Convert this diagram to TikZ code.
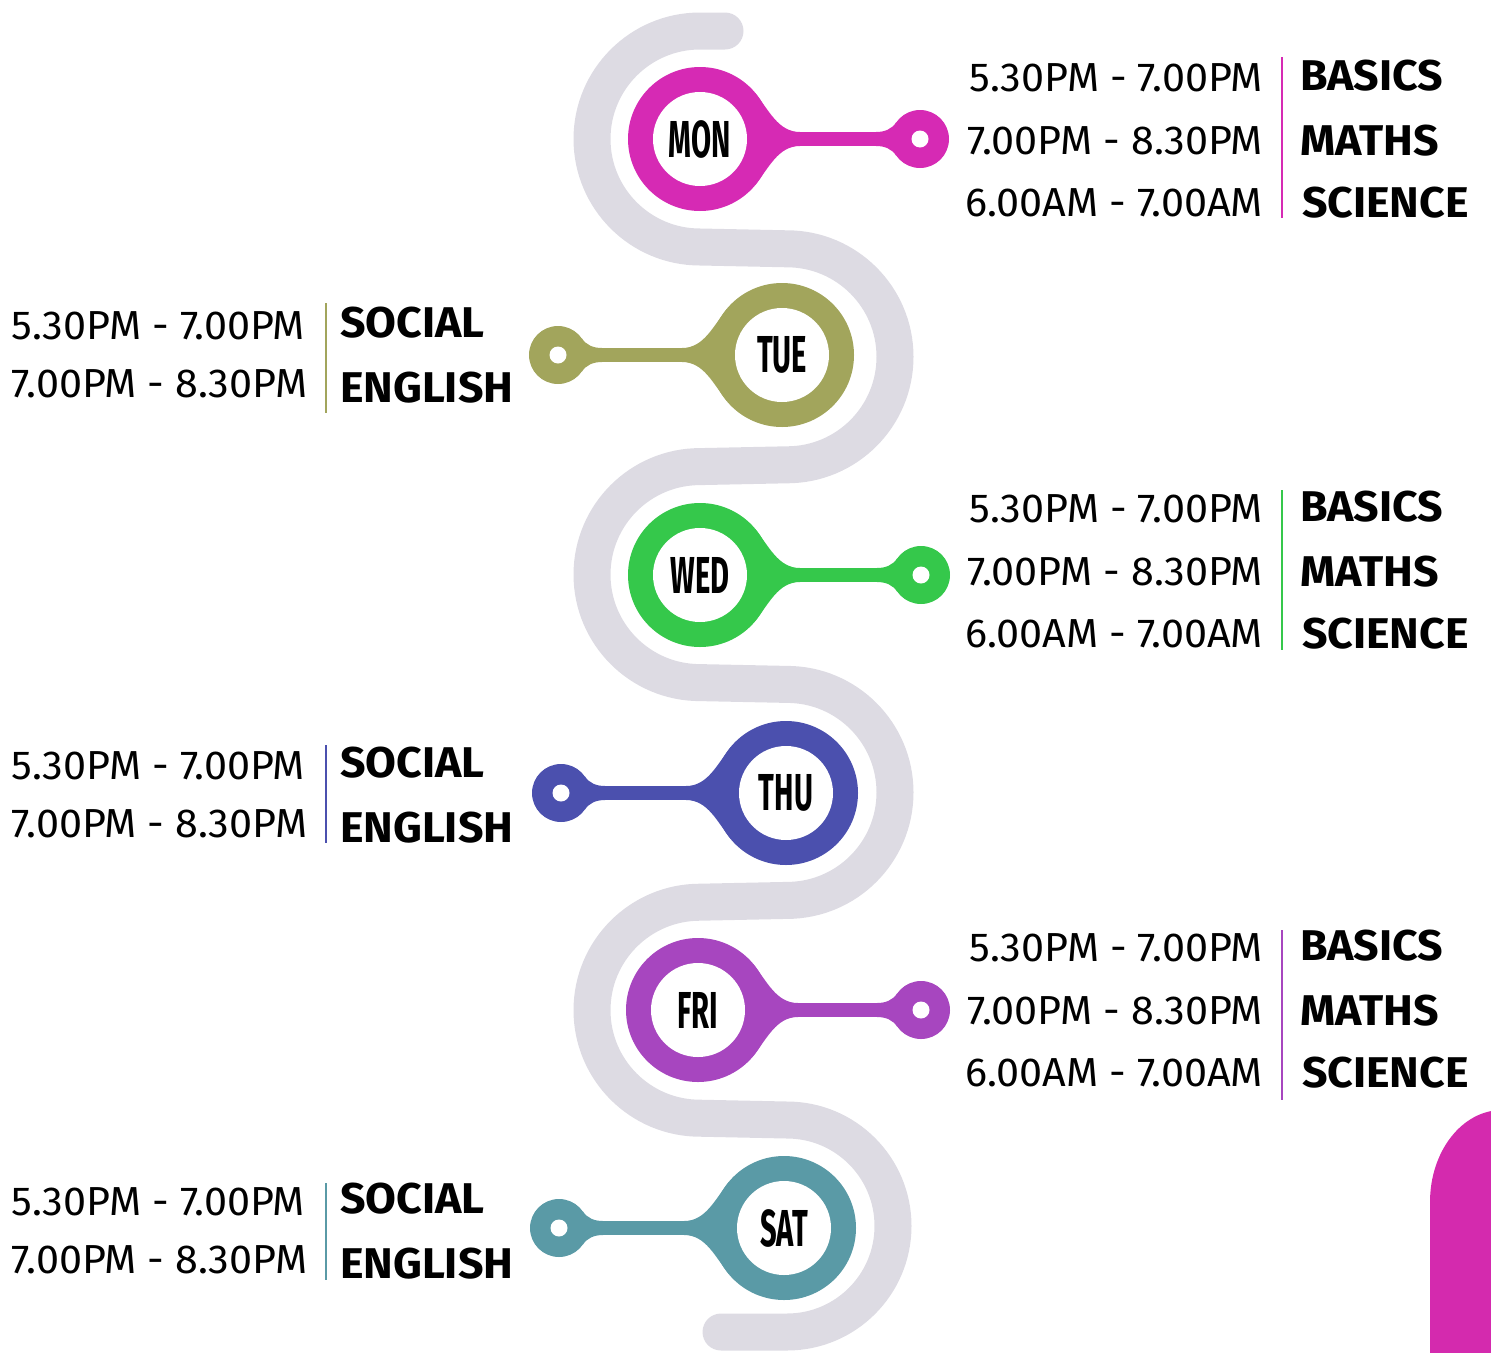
\documentclass[tikz,border=0pt]{standalone}
\usepackage{fontspec}
\setmainfont{Fira Sans}
\newfontfamily\dayfont[FakeStretch=0.56]{Fira Sans}
\newfontfamily\timefont[FakeStretch=1.02]{Fira Sans}
\newfontfamily\subjfont[FakeStretch=1.04]{Fira Sans}
\definecolor{cmon}{HTML}{D62AB4}
\definecolor{ctue}{HTML}{A2A55C}
\definecolor{cwed}{HTML}{35C84B}
\definecolor{cthu}{HTML}{4B50AE}
\definecolor{cfri}{HTML}{A746BF}
\definecolor{csat}{HTML}{5A9AA6}
\definecolor{bandgray}{HTML}{DDDBE3}
\definecolor{cornermag}{HTML}{D42AAE}
\tikzset{
  band/.style={line width=37pt, line cap=round, draw=bandgray},
  ring/.style={circle, inner sep=0pt, outer sep=0pt, minimum size=144pt},
  face/.style={circle, fill=white, inner sep=0pt, outer sep=0pt, minimum size=94pt,
    text=black, font=\dayfont\bfseries\fontsize{52}{52}\selectfont},
  knob/.style={circle, inner sep=0pt, outer sep=0pt, minimum size=58pt},
  hole/.style={circle, fill=white, inner sep=0pt, outer sep=0pt, minimum size=17pt},
  bar/.style={line width=14pt},
  timetxt/.style={inner sep=0pt, outer sep=0pt, font=\timefont\fontsize{40.5}{40.5}\selectfont},
  subjtxt/.style={inner sep=0pt, outer sep=0pt, font=\subjfont\bfseries\fontsize{43}{43}\selectfont},
  sepline/.style={line width=2.2pt},
}
% #1 name, #2 cx, #3 cy, #4 direction (1/-1), #5 knob distance, #6 colour, #7 label
\newcommand\daypin[7]{%
  \begin{scope}[shift={(#2,#3)}, xscale=#4]
    \fill[#6] (55,-46) .. controls (69,-29) and (78,-7) .. (100,-7)
      -- (100,7) .. controls (78,7) and (69,29) .. (55,46) -- (0,0) -- cycle;
    \fill[#6] ({#5-44},-7) .. controls ({#5-35},-7) and ({#5-28.4},-10) .. ({#5-23.8},-16.6)
      -- ({#5-23.8},16.6) .. controls ({#5-28.4},10) and ({#5-35},7) .. ({#5-44},7) -- cycle;
    \node[ring, fill=#6] (#1) at (0,0) {};
    \node[knob, fill=#6] (#1k) at (#5,0) {};
    \draw[bar, #6] (#1) -- (#1k);
    \node[hole] (#1h) at (#1k) {};
    \node[face] (#1f) at (0,0) {#7};
  \end{scope}}
\begin{document}
\begin{tikzpicture}[x=1pt, y=-1pt]
\useasboundingbox (0,0) rectangle (1491,1352);
% corner shape
\fill[cornermag] (1430,1420) -- (1430,1202)
  arc[start angle=180, end angle=90, x radius=72pt, y radius=92pt]
  -- (1530,1110) -- (1530,1420) -- cycle;
% serpentine band
\draw[band] (725,31) -- (700,31)
  arc[start angle=90, end angle=270, radius=108pt]
  -- (787,248.8) arc[start angle=90, end angle=-90, radius=108pt]
  -- (700,466.6) arc[start angle=90, end angle=270, radius=108pt]
  -- (787,684.4) arc[start angle=90, end angle=-90, radius=108pt]
  -- (700,902.2) arc[start angle=90, end angle=270, radius=108pt]
  -- (787,1120) arc[start angle=90, end angle=-90, radius=106pt]
  -- (721,1332);
% pins
\daypin{mon}{700}{139}{1}{220}{cmon}{MON}
\daypin{tue}{782}{355}{-1}{224}{ctue}{TUE}
\daypin{wed}{700}{575}{1}{221}{cwed}{WED}
\daypin{thu}{786}{793}{-1}{225}{cthu}{THU}
\daypin{fri}{698}{1010}{1}{223}{cfri}{FRI}
\daypin{sat}{784}{1228}{-1}{225}{csat}{SAT}
% right blocks
\foreach \nm/\col/\ya/\yb/\yc/\sa/\sb in {m/cmon/78/141/203/57/218, w/cwed/509/572/634/490/650, f/cfri/948/1011/1073/930/1100}{
  \node[timetxt, anchor=east] (\nm t1) at (1263,\ya) {5.30PM - 7.00PM};
  \node[timetxt, anchor=east] (\nm t2) at (1263,\yb) {7.00PM - 8.30PM};
  \node[timetxt, anchor=east] (\nm t3) at (1263,\yc) {6.00AM - 7.00AM};
  \coordinate (\nm s1) at (1282,\sa);
  \coordinate (\nm s2) at (1282,\sb);
  \draw[sepline, \col] (\nm s1) -- (\nm s2);
  \node[subjtxt, anchor=west] (\nm b1) at (1300,\ya-2) {BASICS};
  \node[subjtxt, anchor=west] (\nm b2) at (1300,\yb) {MATHS};
  \node[subjtxt, anchor=west] (\nm b3) at (1302,\yc) {SCIENCE};
}
% left blocks
\foreach \nm/\col/\ya/\yb/\sa/\sb in {t/ctue/326/384/303/413, h/cthu/766/824/745/843, s/csat/1202/1260/1183/1280}{
  \node[timetxt, anchor=west] (\nm t1) at (12,\ya) {5.30PM - 7.00PM};
  \node[timetxt, anchor=west] (\nm t2) at (12,\yb) {7.00PM - 8.30PM};
  \coordinate (\nm s1) at (326,\sa);
  \coordinate (\nm s2) at (326,\sb);
  \draw[sepline, \col] (\nm s1) -- (\nm s2);
  \node[subjtxt, anchor=west] (\nm b1) at (340,\ya-3) {SOCIAL};
  \node[subjtxt, anchor=west] (\nm b2) at (340,\yb+4) {ENGLISH};
}
\end{tikzpicture}
\end{document}
